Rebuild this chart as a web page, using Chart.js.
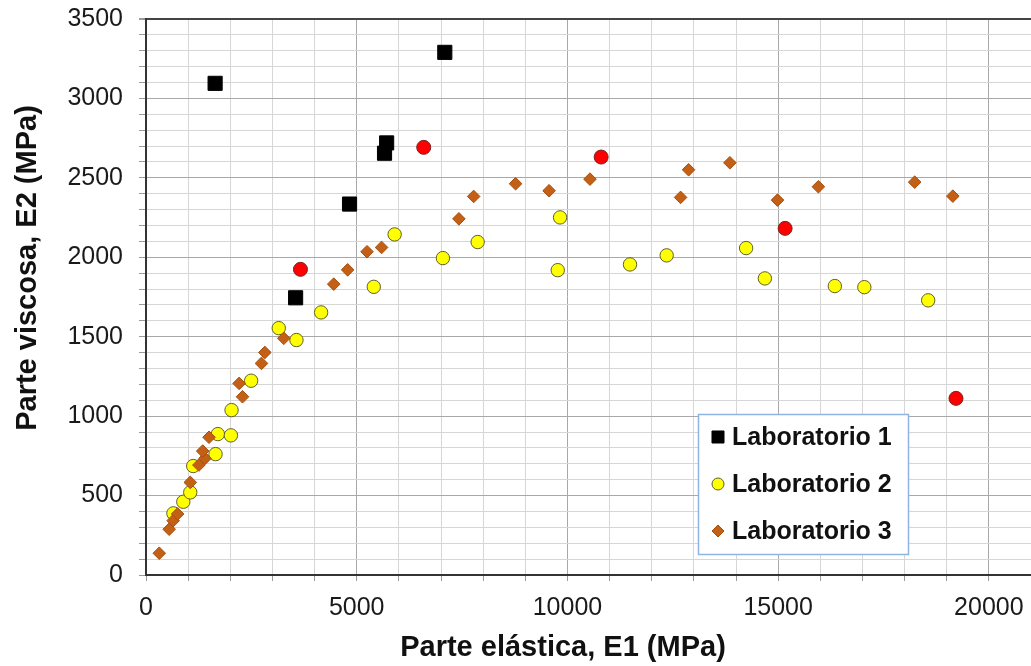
<!DOCTYPE html>
<html>
<head>
<meta charset="utf-8">
<script src="https://cdn.jsdelivr.net/npm/chart.js@4/dist/chart.umd.min.js"></script>
<style>
  body { margin: 0; background: #fff; overflow: hidden; }
  /* a bit wider than the window: the plot area runs off the right edge in the original */
  #wrap { width: 1042px; height: 666px; position: relative; }
</style>
</head>
<body>
<div id="wrap"><canvas id="myChart"></canvas></div>
<script>
'use strict'

// values
let lab1X = [1640, 3550, 4830, 5660, 5710, 7090];
let lab1Y = [3095, 1745, 2335, 2655, 2720, 3290];

let lab2X = [650, 885, 1050, 1120, 1650, 1705, 2015, 2030, 2495, 3150, 3570, 4155, 5405,
  5900, 7045, 7870, 9770, 9825, 11485, 12355, 14240, 14685, 16345, 17045, 18560];
let lab2Y = [388, 461, 520, 686, 761, 887, 879, 1038, 1223, 1554, 1479, 1653, 1814,
  2144, 1995, 2096, 1919, 2251, 1955, 2012, 2058, 1867, 1819, 1812, 1729];

let lab3X = [315, 550, 645, 750, 1050, 1255, 1400, 1345, 1495, 2290, 2210, 2740, 2820, 3270,
  4455, 4785, 5245, 5590, 7425, 7775, 8770, 9565, 10535, 12685, 12875, 13855, 14985,
  15955, 18240, 19145];
let lab3Y = [137, 288, 342, 384, 583, 692, 734, 780, 867, 1122, 1206, 1332, 1401, 1490,
  1831, 1921, 2035, 2062, 2242, 2383, 2463, 2419, 2492, 2377, 2551, 2595, 2360,
  2444, 2473, 2385];

// red points (no legend entry)
let redX = [3665, 6590, 10800, 15165, 19220];
let redY = [1924, 2692, 2631, 2182, 1112];

let xTitle = 'Parte elástica, E1 (MPa)';
let yTitle = 'Parte viscosa, E2 (MPa)';
let xMajor = 5000;
let yMajor = 500;

function toPoints(xs, ys) {
  let pts = [];
  for (let i = 0; i < xs.length; i++) {
    pts.push({x: xs[i], y: ys[i]});
  }
  return pts;
}

const FONT = '"Liberation Sans", Arial, sans-serif';
Chart.defaults.font.family = FONT;
Chart.defaults.color = '#1a1a1a';

// axis titles + legend box drawn by hand so they sit where the original has them
let extras = {
  id: 'extras',
  afterDraw(chart) {
    let ctx = chart.ctx;
    ctx.save();
    ctx.fillStyle = '#111';
    ctx.font = 'bold 29px ' + FONT;
    ctx.textAlign = 'center';
    ctx.textBaseline = 'alphabetic';
    ctx.fillText(xTitle, 563, 656);

    ctx.save();
    ctx.translate(36, 268);
    ctx.rotate(-Math.PI / 2);
    ctx.fillText(yTitle, 0, 0);
    ctx.restore();

    // legend
    ctx.fillStyle = '#fff';
    ctx.fillRect(698, 414, 210, 140);
    ctx.strokeStyle = '#8fb4e3';
    ctx.lineWidth = 1.5;
    ctx.strokeRect(698.5, 414.5, 210, 140);

    let rows = chart.data.datasets.filter(d => d.label);
    let rowY = [437, 484, 531];
    ctx.font = 'bold 25px ' + FONT;
    ctx.textAlign = 'left';
    ctx.textBaseline = 'middle';
    rows.forEach((d, i) => {
      let y = rowY[i];
      ctx.fillStyle = d.backgroundColor;
      ctx.strokeStyle = d.borderColor;
      ctx.lineWidth = 1;
      Chart.helpers.drawPoint(ctx, {
        pointStyle: d.pointStyle,
        radius: d.legendRadius,
        borderWidth: 1
      }, 718, y);
      ctx.fillStyle = '#111';
      ctx.fillText(d.label, 732, y + 1);
    });
    ctx.restore();
  }
};

let ctx = document.getElementById('myChart').getContext('2d');
let myChart = new Chart(ctx, {
  type: 'scatter',
  data: {
    datasets: [{
      label: '',
      data: toPoints(redX, redY),
      pointStyle: 'circle',
      radius: 7,
      backgroundColor: '#ff0000',
      borderColor: '#7a2020',
      borderWidth: 1,
      order: 0
    }, {
      label: 'Laboratorio 1',
      data: toPoints(lab1X, lab1Y),
      pointStyle: 'rect',
      radius: 10,
      legendRadius: 8.5,
      backgroundColor: '#000000',
      borderColor: '#000000',
      borderWidth: 1,
      order: 1
    }, {
      label: 'Laboratorio 2',
      data: toPoints(lab2X, lab2Y),
      pointStyle: 'circle',
      radius: 6.7,
      legendRadius: 6,
      backgroundColor: '#ffff00',
      borderColor: '#5f5f2a',
      borderWidth: 1,
      order: 3
    }, {
      label: 'Laboratorio 3',
      data: toPoints(lab3X, lab3Y),
      pointStyle: 'rectRot',
      radius: 6.3,
      legendRadius: 6,
      backgroundColor: '#c45f16',
      borderColor: '#a5500f',
      borderWidth: 1,
      order: 2
    }]
  },
  options: {
    responsive: true,
    maintainAspectRatio: false,
    animation: false,
    layout: { padding: { top: 19, left: 0, right: 0, bottom: 0 } },
    plugins: {
      legend: { display: false },
      tooltip: { enabled: false }
    },
    scales: {
      x: {
        type: 'linear',
        min: 0,
        max: 21000,
        afterFit(scale) {
          scale.height = 91;
          scale.paddingLeft = 0;
          scale.paddingRight = 0;
        },
        border: { color: '#333', width: 2 },
        grid: {
          color: c => c.tick.value % xMajor === 0 ? '#a8a8a8' : '#d6d6d6',
          tickColor: '#9a9a9a',
          tickLength: 6
        },
        ticks: {
          stepSize: 1000,
          autoSkip: false,
          maxRotation: 0,
          padding: 12,
          font: { size: 25 },
          color: '#1a1a1a',
          callback: v => v % xMajor === 0 ? v : ''
        }
      },
      y: {
        type: 'linear',
        min: 0,
        max: 3500,
        afterFit(scale) {
          scale.width = 146;
          scale.paddingTop = 0;
          scale.paddingBottom = 0;
        },
        border: { color: '#333', width: 2 },
        grid: {
          color: c => c.tick.value === 3500 ? '#444' : (c.tick.value % yMajor === 0 ? '#a8a8a8' : '#d6d6d6'),
          lineWidth: c => c.tick.value === 3500 ? 2 : 1,
          tickColor: '#9a9a9a',
          tickLength: 7
        },
        ticks: {
          stepSize: 100,
          autoSkip: false,
          padding: 16,
          font: { size: 25 },
          color: '#1a1a1a',
          callback: v => v % yMajor === 0 ? v : ''
        }
      }
    }
  },
  plugins: [extras]
});
</script>
</body>
</html>
